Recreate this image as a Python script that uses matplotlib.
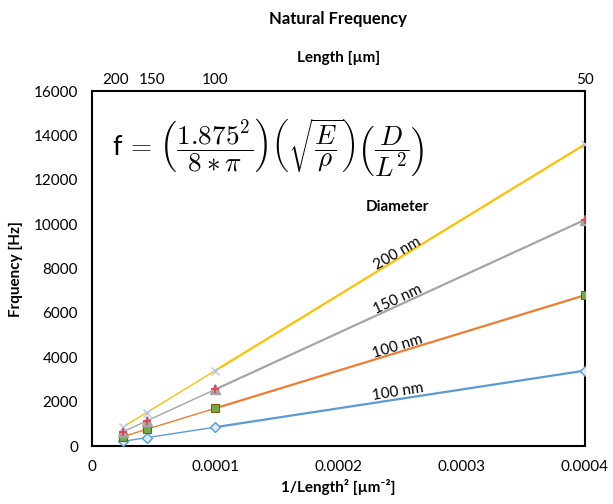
import matplotlib
matplotlib.use("Agg")
import matplotlib.pyplot as plt
import matplotlib.transforms as mtransforms
import numpy as np

plt.rcParams['font.family'] = ['Lato', 'DejaVu Sans']
plt.rcParams['mathtext.fontset'] = 'cm'

length_um = [200, 150, 100, 50]
inv_len_sq = [1 / 200**2, 1 / 150**2, 1 / 100**2, 1 / 50**2]
freq_d100b = [212, 378, 850, 3400]
freq_d100 = [425, 756, 1700, 6800]
freq_d150 = [637, 1133, 2550, 10200]
freq_d200 = [850, 1511, 3400, 13600]
series_labels = ['100 nm', '100 nm', '150 nm', '200 nm']

x_ticks = [0, 0.0001, 0.0002, 0.0003, 0.0004]
x_ticklabels = ['0', '0.0001', '0.0002', '0.0003', '0.0004']
y_ticks = list(range(0, 16001, 2000))

fig = plt.figure(figsize=(6.13, 5.04), dpi=100)
ax = fig.add_axes([0.150, 0.115, 0.804, 0.704])

blue = '#5B9BD5'
orange = '#ED7D31'
gray = '#A5A5A5'
yellow = '#FFC000'
green = '#70AD47'

def draw(y, color, lw_thin=1.0, lw_thick=1.6):
    ax.plot(inv_len_sq[:3], y[:3], color=color, lw=lw_thin, zorder=2)
    ax.plot(inv_len_sq[2:], y[2:], color=color, lw=lw_thick, zorder=2)

draw(freq_d100b, blue)
draw(freq_d100, orange)
draw(freq_d150, gray)
draw(freq_d200, yellow)

ax.plot(inv_len_sq, freq_d100b, ls='none', marker='D', ms=5, mfc='#DDEBF7', mec=blue, mew=1.0, zorder=3)
ax.plot(inv_len_sq, freq_d100, ls='none', marker='s', ms=6, mfc=green, mec='#7F6000', mew=0.8, zorder=3)
ax.plot(inv_len_sq, freq_d150, ls='none', marker='^', ms=7, mfc=gray, mec=gray, zorder=3)
ax.plot(inv_len_sq, freq_d150, ls='none', marker='+', ms=6, mec='#E84050', mew=1.3, zorder=4)
ax.plot(inv_len_sq, freq_d200, ls='none', marker='x', ms=6, mec='#B4C7E7', mew=1.0, zorder=3)

ax.set_xlim(0, 0.0004)
ax.set_ylim(0, 16000)
ax.set_xticks(x_ticks)
ax.set_xticklabels(x_ticklabels)
ax.set_yticks(y_ticks)
ax.set_yticklabels([str(v) for v in y_ticks])
ax.tick_params(length=0, labelsize=11, pad=10)
for s in ax.spines.values():
    s.set_linewidth(1.5)
    s.set_color('black')

ax.set_xlabel('1/Length² [µm⁻²]', fontsize=11, fontweight='bold', labelpad=4)
ax.set_ylabel('Frquency [Hz]', fontsize=11, fontweight='bold', labelpad=8)

top = ax.secondary_xaxis('top')
top.set_xticks(inv_len_sq)
top.set_xticklabels([str(v) for v in length_um])
top.tick_params(length=0, labelsize=11, pad=3)
top.spines['top'].set_visible(False)
top.set_xlabel('Length [µm]', fontsize=11, fontweight='bold', labelpad=8)
offsets = [-5, 4, 0, 0]
for lbl, dx in zip(top.get_xticklabels(), offsets):
    lbl.set_transform(lbl.get_transform() + mtransforms.ScaledTranslation(dx / 72, 0, fig.dpi_scale_trans))

fig.text(0.551, 0.962, 'Natural Frequency', ha='center', va='center', fontsize=12, fontweight='bold')

ax.text(0.04, 0.84, r'f$\,=\,\left(\dfrac{1.875^2}{8*\pi}\right)\left(\sqrt{\dfrac{E}{\rho}}\right)\left(\dfrac{D}{L^2}\right)$',
        transform=ax.transAxes, fontsize=19.5, ha='left', va='center')

lab_x = 0.000248
ax.text(lab_x, 10772, 'Diameter', fontsize=11, fontweight='bold', ha='center', va='center')
label_y = [2434, 4462, 6625, 8700]
label_rot = [9, 17, 25, 30]
for lab, yy, rot in zip(series_labels, label_y, label_rot):
    ax.text(lab_x, yy, lab, fontsize=11, ha='center', va='center', rotation=rot, rotation_mode='anchor')

fig.savefig('out.png', dpi=100)
